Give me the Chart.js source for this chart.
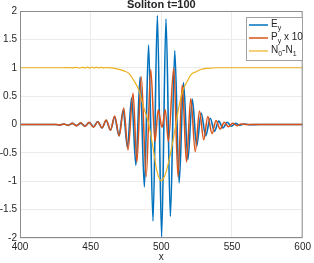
<!DOCTYPE html>
<html>
<head>
<meta charset="utf-8">
<script src="https://cdn.jsdelivr.net/npm/chart.js@4"></script>
<style>
  html, body { margin: 0; padding: 0; background: #fff; }
  #wrap { width: 314px; height: 263px; }
</style>
</head>
<body>
<div id="wrap"><canvas id="soliton" width="314" height="263"></canvas></div>
<script>
// E_y : extrema
const eyX = [400, 425, 428, 431, 434, 437, 440, 443, 446, 449, 452, 455, 458, 461, 464, 467, 470, 473, 476, 479, 482, 485, 488, 491, 494.1, 497.2, 500.2,
  503.3, 506.4, 509.5, 512.6, 515.7, 518.8, 521.9, 525, 528.2, 531.4, 534.6, 537.6, 540.6, 543.6, 546.6, 549.6, 552.6, 555.6, 558.6, 561.6, 570, 600];
const eyV = [0, 0, -0.01, 0.01, -0.015, 0.02, -0.02, 0.025, -0.03, 0.035, -0.04, 0.05, -0.06, 0.07, -0.1, 0.13, -0.2, 0.25, -0.4, 0.47, -0.72, 0.84, -1.1, 1.4, -1.7, 1.92, -1.98,
  1.86, -1.62, 1.3, -1.03, 0.74, -0.62, 0.45, -0.38, 0.2, -0.2, 0.11, -0.12, 0.06, -0.06, 0.04, -0.03, 0.02, -0.015, 0.01, -0.005, 0, 0];

// P_y x 10
const pyX = [400, 426, 428, 431, 434, 437, 440, 443, 446, 449, 452, 455, 458, 461, 464, 467, 470.2, 473.4, 476.4, 480, 482.7, 485.8, 489.3, 492.5, 495.5, 497.8, 500.5, 502.8, 505,
  508.8, 511.8, 514.8, 517.8, 520.8, 524, 527, 530, 532.9, 535.9, 538.7, 541.6, 544.5, 547.5, 550.5, 553.5, 556.5, 560, 600];
const pyV = [0, 0, -0.01, 0.01, -0.015, 0.02, -0.025, 0.03, -0.035, 0.04, -0.05, 0.05, -0.06, 0.08, -0.1, 0.15, -0.2, 0.29, -0.45, 0.55, -0.66, 0.84, -0.92, 0.97, -0.3, 0.26, -0.05, 0.26, -0.3,
  0.99, -0.92, 0.7, -0.66, 0.46, -0.48, 0.24, -0.27, 0.14, -0.16, 0.07, -0.08, 0.04, -0.04, 0.02, -0.02, 0.01, 0, 0];

// N_0 - N_1
const nX = [400, 430, 435, 437, 440, 442, 444, 446, 447.5, 449, 451, 452.5, 454, 455.5, 457, 459, 461, 465, 470, 474, 477, 480.4, 484, 487.4, 490.9, 494.4, 496.7, 499.8,
  502.5, 506, 509.6, 513, 515.5, 517.7, 521, 524.7, 528, 533, 540, 600];
const nV = [1, 1, 1.003, 0.997, 1.005, 0.995, 1.006, 0.996, 1.012, 0.995, 1.012, 0.995, 1.01, 0.997, 1.006, 0.997, 1.003, 0.997, 0.97, 0.94, 0.9, 0.78, 0.61, 0.31, 0.03, -0.45, -0.8, -0.99,
  -0.9, -0.57, -0.1, 0.38, 0.62, 0.73, 0.88, 0.93, 0.97, 0.99, 1, 1];

const xTicks = [400, 450, 500, 550, 600];
const yTicks = [-2, -1.5, -1, -0.5, 0, 0.5, 1, 1.5, 2];

const pts = (xs, vs) => xs.map((x, i) => ({ x: x, y: vs[i] }));

const FONT = 'Liberation Sans, Arial, Helvetica, sans-serif';
const INK = '#262626';

// title, x label, axes box and legend (with subscripts)
const decor = {
  id: 'decor',
  afterDraw(chart) {
    const c = chart.ctx;
    const a = chart.chartArea;
    c.save();
    c.strokeStyle = '#8c8c8c';
    c.lineWidth = 1;
    c.strokeRect(a.left + 0.5, a.top + 0.5, a.right - a.left - 1, a.bottom - a.top - 1);

    c.fillStyle = INK;
    c.textAlign = 'center';
    c.textBaseline = 'middle';
    c.font = 'bold 11px ' + FONT;
    c.fillText('Soliton t=100', (a.left + a.right) / 2, 5);
    c.font = '10px ' + FONT;
    c.fillText('x', (a.left + a.right) / 2, 257);

    // legend
    const bx = 246, by = 17, bw = 56, bh = 43;
    c.fillStyle = '#fff';
    c.fillRect(bx, by, bw, bh);
    c.strokeStyle = '#a0a0a0';
    c.strokeRect(bx + 0.5, by + 0.5, bw, bh);
    const rows = [
      { col: '#0072BD', w: 1.5, parts: [['E', 0], ['y', 1]] },
      { col: '#D95319', w: 1.5, parts: [['P', 0], ['y', 1], [' x 10', 0]] },
      { col: '#EDB120', w: 1.2, parts: [['N', 0], ['0', 1], ['-N', 0], ['1', 1]] }
    ];
    rows.forEach((r, i) => {
      const y = by + 8 + i * 13;
      c.strokeStyle = r.col;
      c.lineWidth = r.w;
      c.beginPath();
      c.moveTo(bx + 3, y);
      c.lineTo(bx + 22, y);
      c.stroke();
      let tx = bx + 25;
      c.textAlign = 'left';
      c.fillStyle = INK;
      r.parts.forEach(p => {
        c.font = (p[1] ? '7px ' : '10px ') + FONT;
        c.fillText(p[0], tx, y + (p[1] ? 3 : -1));
        tx += c.measureText(p[0]).width;
      });
    });
    c.restore();
  }
};

const line = (label, data, color, width, order) => ({
  label: label,
  data: data,
  borderColor: color,
  backgroundColor: color,
  borderWidth: width,
  pointRadius: 0,
  cubicInterpolationMode: 'monotone',
  order: order
});

new Chart(document.getElementById('soliton'), {
  type: 'line',
  data: {
    datasets: [
      line('E_y', pts(eyX, eyV), '#0072BD', 1.6, 3),
      line('P_y x 10', pts(pyX, pyV), '#D95319', 1.5, 2),
      line('N_0-N_1', pts(nX, nV), '#EDB120', 1.2, 1)
    ]
  },
  options: {
    responsive: false,
    animation: false,
    layout: { padding: { left: 0, right: 8, top: 11, bottom: 0 } },
    plugins: { legend: { display: false }, title: { display: false }, tooltip: { enabled: false } },
    scales: {
      x: {
        type: 'linear', min: 400, max: 600,
        afterBuildTicks: s => { s.ticks = xTicks.map(v => ({ value: v })); },
        afterFit: s => { s.height = 25; },
        grid: { color: '#ebebeb', drawTicks: false },
        border: { display: false },
        ticks: { color: INK, font: { size: 10, family: FONT }, padding: 3, maxRotation: 0, callback: v => String(v) }
      },
      y: {
        type: 'linear', min: -2, max: 2,
        afterBuildTicks: s => { s.ticks = yTicks.map(v => ({ value: v })); },
        afterFit: s => { s.width = 20; },
        grid: { color: '#ebebeb', drawTicks: false },
        border: { display: false },
        ticks: { color: INK, font: { size: 10, family: FONT }, padding: 3, callback: v => String(v) }
      }
    }
  },
  plugins: [decor]
});
</script>
</body>
</html>
